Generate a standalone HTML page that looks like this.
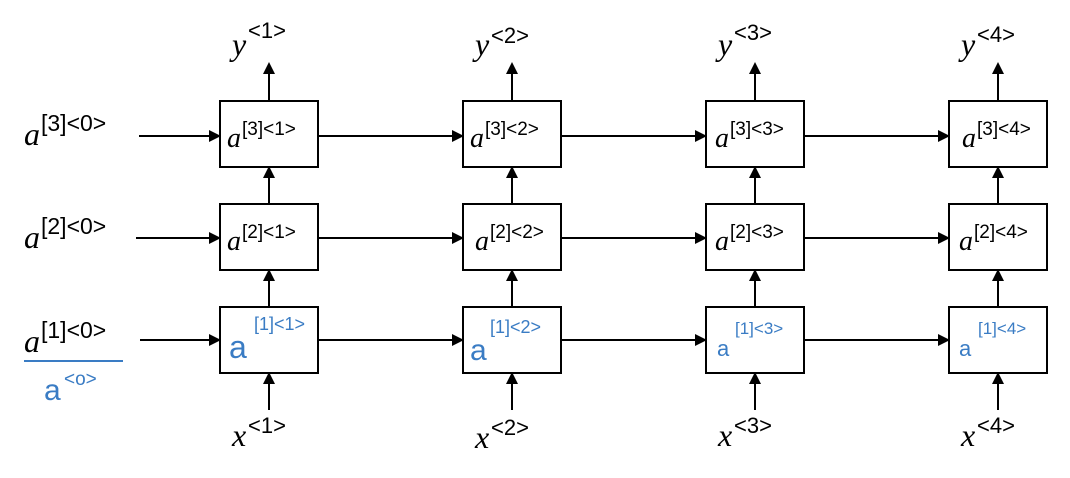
<!DOCTYPE html>
<html><head><style>body{margin:0;background:#fff}svg{display:block}</style></head><body>
<svg width="1070" height="478" viewBox="0 0 1070 478" xmlns="http://www.w3.org/2000/svg" font-family="Liberation Serif, serif">
<defs><marker id="u" markerWidth="12" markerHeight="12" refX="10" refY="6" orient="auto" markerUnits="userSpaceOnUse"><path d="M0,0 L12,6 L0,12z" fill="#000"/></marker></defs>
<g stroke="#000" stroke-width="2" fill="none">
<g fill="#fff">
<rect x="220" y="101" width="98" height="66"/><rect x="220" y="204" width="98" height="66"/><rect x="220" y="307" width="98" height="66"/>
<rect x="463" y="101" width="98" height="66"/><rect x="463" y="204" width="98" height="66"/><rect x="463" y="307" width="98" height="66"/>
<rect x="706" y="101" width="98" height="66"/><rect x="706" y="204" width="98" height="66"/><rect x="706" y="307" width="98" height="66"/>
<rect x="949" y="101" width="98" height="66"/><rect x="949" y="204" width="98" height="66"/><rect x="949" y="307" width="98" height="66"/>
</g>
<g marker-end="url(#u)">
<line x1="139" y1="136" x2="219" y2="136"/><line x1="136" y1="238" x2="219" y2="238"/><line x1="140" y1="340" x2="219" y2="340"/>
<line x1="318" y1="136" x2="462" y2="136"/><line x1="318" y1="238" x2="462" y2="238"/><line x1="318" y1="340" x2="462" y2="340"/>
<line x1="561" y1="136" x2="705" y2="136"/><line x1="561" y1="238" x2="705" y2="238"/><line x1="561" y1="340" x2="705" y2="340"/>
<line x1="804" y1="136" x2="948" y2="136"/><line x1="804" y1="238" x2="948" y2="238"/><line x1="804" y1="340" x2="948" y2="340"/>
</g>
<g marker-end="url(#u)">
<line x1="269" y1="101" x2="269" y2="64"/><line x1="269" y1="204" x2="269" y2="168"/><line x1="269" y1="307" x2="269" y2="271"/><line x1="269" y1="410" x2="269" y2="374"/>
<line x1="512" y1="101" x2="512" y2="64"/><line x1="512" y1="204" x2="512" y2="168"/><line x1="512" y1="307" x2="512" y2="271"/><line x1="512" y1="410" x2="512" y2="374"/>
<line x1="755" y1="101" x2="755" y2="64"/><line x1="755" y1="204" x2="755" y2="168"/><line x1="755" y1="307" x2="755" y2="271"/><line x1="755" y1="410" x2="755" y2="374"/>
<line x1="998" y1="101" x2="998" y2="64"/><line x1="998" y1="204" x2="998" y2="168"/><line x1="998" y1="307" x2="998" y2="271"/><line x1="998" y1="410" x2="998" y2="374"/>
</g>
</g>
<g font-size="32" fill="#000">
<text x="24" y="145" font-style="italic">a</text><text x="41" y="131" font-size="23" font-family="Liberation Sans, sans-serif">[3]&lt;0&gt;</text>
<text x="24" y="248" font-style="italic">a</text><text x="41" y="234" font-size="23" font-family="Liberation Sans, sans-serif">[2]&lt;0&gt;</text>
<text x="24" y="352" font-style="italic">a</text><text x="41" y="338" font-size="23" font-family="Liberation Sans, sans-serif">[1]&lt;0&gt;</text>
</g>
<line x1="24" y1="361" x2="123" y2="361" stroke="#3a7cc4" stroke-width="2"/>
<text x="44" y="400" font-size="30" fill="#3a7cc4" font-family="Liberation Sans, sans-serif">a</text><text x="64" y="385" font-size="19" fill="#3a7cc4" font-family="Liberation Sans, sans-serif">&lt;o&gt;</text>
<g font-family="Liberation Sans, sans-serif">
<g font-size="28"><text x="227" y="147" font-style="italic" font-family="Liberation Serif, serif">a</text><text x="470" y="147" font-style="italic" font-family="Liberation Serif, serif">a</text><text x="715" y="147" font-style="italic" font-family="Liberation Serif, serif">a</text><text x="962" y="147" font-style="italic" font-family="Liberation Serif, serif">a</text>
<text x="227" y="250" font-style="italic" font-family="Liberation Serif, serif">a</text><text x="475" y="250" font-style="italic" font-family="Liberation Serif, serif">a</text><text x="715" y="250" font-style="italic" font-family="Liberation Serif, serif">a</text><text x="959" y="250" font-style="italic" font-family="Liberation Serif, serif">a</text></g>
<g font-size="19"><text x="242" y="135">[3]&lt;1&gt;</text><text x="485" y="135">[3]&lt;2&gt;</text><text x="730" y="135">[3]&lt;3&gt;</text><text x="977" y="135">[3]&lt;4&gt;</text>
<text x="242" y="238">[2]&lt;1&gt;</text><text x="490" y="238">[2]&lt;2&gt;</text><text x="730" y="238">[2]&lt;3&gt;</text><text x="974" y="238">[2]&lt;4&gt;</text></g>
<g fill="#3a7cc4"><text x="229" y="358" font-size="32">a</text><text x="254" y="330" font-size="18">[1]&lt;1&gt;</text>
<text x="470" y="360" font-size="30">a</text><text x="490" y="333" font-size="18">[1]&lt;2&gt;</text>
<text x="717" y="356" font-size="22">a</text><text x="735" y="334" font-size="17">[1]&lt;3&gt;</text>
<text x="959" y="356" font-size="22">a</text><text x="978" y="334" font-size="17">[1]&lt;4&gt;</text></g>
</g>
<g font-size="32" font-style="italic" font-family="Liberation Serif, serif">
<text x="232" y="55">y</text><text x="475" y="55">y</text><text x="718" y="55">y</text><text x="961" y="55">y</text>
<text x="232" y="446">x</text><text x="475" y="448">x</text><text x="718" y="446">x</text><text x="961" y="446">x</text>
</g>
<g font-size="22" font-family="Liberation Sans, sans-serif">
<text x="248" y="38">&lt;1&gt;</text><text x="491" y="43">&lt;2&gt;</text><text x="734" y="40">&lt;3&gt;</text><text x="977" y="42">&lt;4&gt;</text>
<text x="248" y="433">&lt;1&gt;</text><text x="491" y="435">&lt;2&gt;</text><text x="734" y="433">&lt;3&gt;</text><text x="977" y="433">&lt;4&gt;</text>
</g>
</svg>
</body></html>
